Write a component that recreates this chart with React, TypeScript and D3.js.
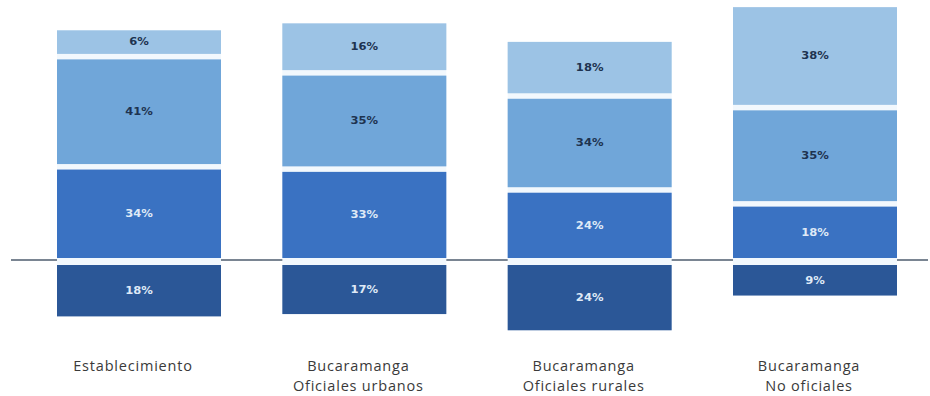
import React from "react";
import * as d3 from "d3";

const categories = ["Establecimiento", "Bucaramanga Oficiales urbanos", "Bucaramanga Oficiales rurales", "Bucaramanga No oficiales"];
const categoryLines = [["Establecimiento"], ["Bucaramanga", "Oficiales urbanos"], ["Bucaramanga", "Oficiales rurales"], ["Bucaramanga", "No oficiales"]];

// below the line
const levelNeg = [18, 17, 24, 9];
// stacked above the line, bottom to top
const level2 = [34, 33, 24, 18];
const level3 = [41, 35, 34, 35];
const level4 = [6, 16, 18, 38];

const colors = ["#2b5797", "#3a72c2", "#70a6d9", "#9cc3e5"];
const textColors = ["#dfe9f6", "#dfe9f6", "#1e3350", "#1e3350"];

const W = 930;
const H = 396;
const baseY = 260;
const posStart = 258;
const negStart = 265;
const gap = 5.5;

export default function App() {
  const x = d3.scaleBand<string>().domain(categories).range([57, 897]).paddingInner(0.2722).paddingOuter(0);
  const h = d3.scaleLinear().domain([0, 100]).range([9.7, 241.3]);

  const bars = categories.map((c, i) => {
    const segs: { y: number; height: number; v: number; k: number }[] = [];
    segs.push({ y: negStart, height: h(levelNeg[i]), v: levelNeg[i], k: 0 });
    let cur = posStart;
    [level2[i], level3[i], level4[i]].forEach((v, j) => {
      const hh = h(v);
      segs.push({ y: cur - hh, height: hh, v, k: j + 1 });
      cur = cur - hh - gap;
    });
    return { c, i, segs };
  });

  return (
    <svg width={W} height={H} style={{ position: "absolute", left: 0, top: 0, background: "#fff" }}>
      <line x1={11} x2={928} y1={baseY} y2={baseY} stroke="#7a8592" strokeWidth={2} />
      {bars.map((b) => {
        const bx = x(b.c)!;
        const bw = x.bandwidth();
        const top = Math.min(...b.segs.map((s) => s.y));
        const bottom = Math.max(...b.segs.map((s) => s.y + s.height));
        return (
          <g key={b.c}>
            <rect x={bx} y={top} width={bw} height={bottom - top} fill="#f2f8fd" />
            {b.segs.map((s) => (
              <g key={s.k}>
                <rect x={bx} y={s.y} width={bw} height={s.height} fill={colors[s.k]} />
                <text
                  transform={`translate(${bx + bw / 2},${s.y + s.height / 2}) scale(1.1,1)`}
                  textAnchor="middle"
                  dominantBaseline="central"
                  fontFamily="DejaVu Sans"
                  fontWeight="bold"
                  fontSize={10.5}
                  fill={textColors[s.k]}
                >
                  {s.v}%
                </text>
              </g>
            ))}
            {categoryLines[b.i].map((ln, li) => (
              <text
                key={li}
                x={bx + bw / 2 - 6}
                y={371 + li * 20}
                textAnchor="middle"
                fontFamily="Open Sans"
                fontSize={14.5}
                letterSpacing={0.8}
                fill="#3a3a3a"
              >
                {ln}
              </text>
            ))}
          </g>
        );
      })}
    </svg>
  );
}
